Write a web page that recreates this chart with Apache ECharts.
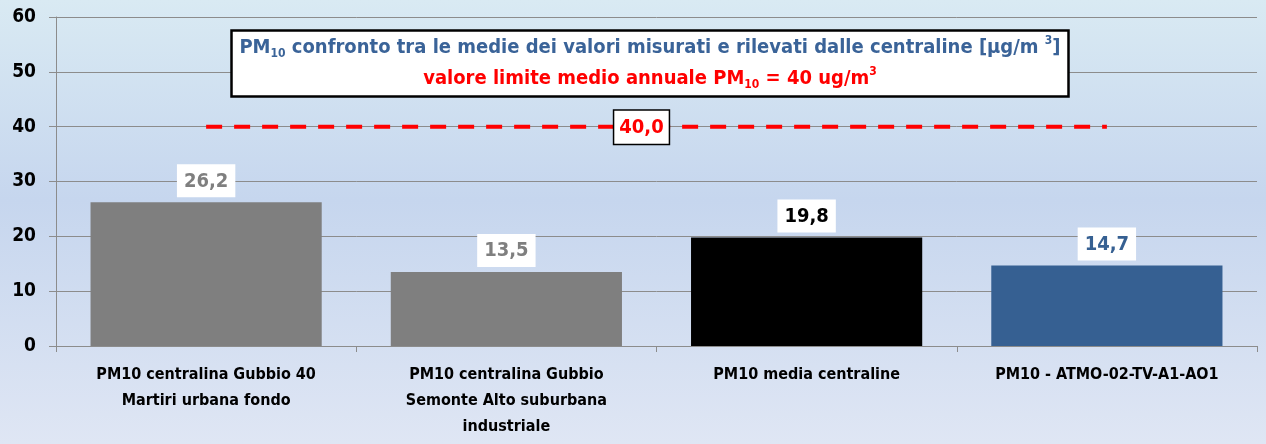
<!DOCTYPE html>
<html>
<head>
<meta charset="utf-8">
<script src="https://cdn.jsdelivr.net/npm/echarts@6/dist/echarts.min.js"></script>
<style>
  html, body { margin: 0; padding: 0; }
  #chart { width: 1266px; height: 444px; }
</style>
</head>
<body>
<div id="chart"></div>
<script>
// PM10 annual means per station
const categories = [
  'PM10 centralina Gubbio 40\nMartiri urbana fondo',
  'PM10 centralina Gubbio\nSemonte Alto suburbana\nindustriale',
  'PM10 media centraline',
  'PM10 - ATMO-02-TV-A1-AO1'
];
const values = [26.2, 13.5, 19.8, 14.7];
const barColors = ['#7f7f7f', '#7f7f7f', '#000000', '#366092'];
const labelColors = ['#7f7f7f', '#7f7f7f', '#000000', '#366092'];
const limitValues = [40, 40, 40, 40];
const limitLabel = '40,0';

const FONT = '"DejaVu Sans Condensed", "Liberation Sans", sans-serif';
const fmt = v => v.toFixed(1).replace('.', ',');

const chart = echarts.init(document.getElementById('chart'), null, { renderer: 'canvas' });

const titleBlue = '#3a6398';
const sub = c => ({ color: c, fontWeight: 'bold', fontSize: 12, lineHeight: 31, verticalAlign: 'bottom', padding: [0, 0, 3, 0], fontFamily: FONT });
const sup = c => ({ color: c, fontWeight: 'bold', fontSize: 12, lineHeight: 31, verticalAlign: 'top', padding: [3, 0, 0, 0], fontFamily: FONT });
const main = c => ({ color: c, fontWeight: 'bold', fontSize: 20, lineHeight: 31, fontFamily: FONT });

chart.setOption({
  animation: false,
  backgroundColor: {
    type: 'linear', x: 0, y: 0, x2: 0, y2: 1,
    colorStops: [
      { offset: 0, color: '#d9eaf3' },
      { offset: 0.45, color: '#c6d6ee' },
      { offset: 1, color: '#dfe6f4' }
    ]
  },
  textStyle: { fontFamily: FONT },
  title: {
    left: 642,
    top: 30,
    textAlign: 'center',
    backgroundColor: '#ffffff',
    borderColor: '#000000',
    borderWidth: 2.5,
    padding: [2, 8, 3, 8],
    text: '{b|PM}{bs|10}{b| confronto tra le medie dei valori misurati e rilevati dalle centraline [µg/m }{bp|3}{b|]}\n' +
          '{r|valore limite medio annuale PM}{rs|10}{r| = 40 ug/m}{rp|3}',
    textStyle: {
      fontFamily: FONT,
      rich: {
        b: main(titleBlue), bs: sub(titleBlue), bp: sup(titleBlue),
        r: main('#ff0000'), rs: sub('#ff0000'), rp: sup('#ff0000')
      }
    }
  },
  grid: { left: 56, right: 9, top: 17, bottom: 98, containLabel: false },
  xAxis: {
    type: 'category',
    data: categories,
    boundaryGap: true,
    axisLine: { lineStyle: { color: '#8c8c8c', width: 1 } },
    axisTick: { show: true, length: 6, lineStyle: { color: '#8c8c8c' } },
    axisLabel: {
      color: '#000000', fontWeight: 'bold', fontSize: 16, fontFamily: FONT,
      lineHeight: 26, margin: 16, interval: 0
    }
  },
  yAxis: {
    type: 'value',
    min: 0, max: 60, interval: 10,
    axisLine: { show: true, lineStyle: { color: '#8c8c8c', width: 1 } },
    axisTick: { show: true, length: 7, lineStyle: { color: '#8c8c8c' } },
    splitLine: { lineStyle: { color: '#8c8c8c', width: 1 } },
    axisLabel: { color: '#000000', fontWeight: 'bold', fontSize: 19, fontFamily: FONT, margin: 20 }
  },
  series: [
    {
      type: 'bar',
      barCategoryGap: '23%',
      data: values.map((v, i) => ({
        value: v,
        itemStyle: { color: barColors[i] },
        label: { color: labelColors[i] }
      })),
      label: {
        show: true,
        position: 'top',
        distance: 5,
        formatter: p => fmt(p.value),
        fontWeight: 'bold',
        fontSize: 20,
        fontFamily: FONT,
        backgroundColor: '#ffffff',
        padding: [7, 7, 6, 7]
      }
    },
    {
      // annual limit value, dashed across the categories
      type: 'line',
      data: limitValues,
      symbol: 'none',
      silent: true,
      lineStyle: { color: '#ff0000', width: 4, type: [16, 12] },
      z: 3,
      markLine: {
        silent: true,
        symbol: 'none',
        lineStyle: { color: 'rgba(0,0,0,0)', width: 0 },
        data: [[{ xAxis: 0, yAxis: limitValues[0] }, { xAxis: 3, yAxis: limitValues[3] }]],
        label: {
          show: true,
          position: 'middle',
          formatter: limitLabel,
          color: '#ff0000',
          fontWeight: 'bold',
          fontSize: 20,
          fontFamily: FONT,
          backgroundColor: '#ffffff',
          borderColor: '#000000',
          borderWidth: 1.5,
          padding: [7, 5, 6, 5],
          distance: 0,
          offset: [-15, 17]
        }
      }
    }
  ]
});
</script>
</body>
</html>
